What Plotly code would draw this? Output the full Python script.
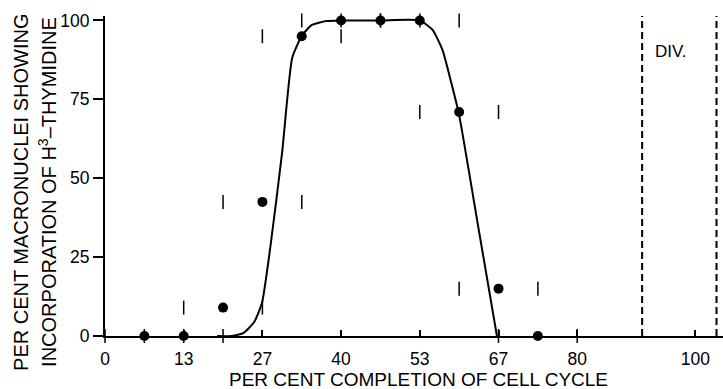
import plotly.graph_objects as go

# Measured data (per cent of cells with labelled macronuclei)
cycle_pct = [6.67, 13.33, 20.0, 26.67, 33.33, 40.0, 46.67, 53.33, 60.0, 66.67, 73.33]
labelled_pct = [0, 0, 9, 42.5, 95, 100, 100, 100, 71, 15, 0]
half_range = [6.67, 6.67, 6.67, 6.67, 6.67, 6.67, 6.67, 6.67, 6.67, 6.67, 6.67]

# Hand-fitted curve through the points (baseline elsewhere is the x axis)
curve_x = [19.0, 21.5, 23.5, 25.3, 26.6, 28.0, 30.0, 31.7, 33.3, 35.0, 37.5, 40.0, 46.7,
           53.3, 55.5, 57.2, 58.7, 60.0, 63.2, 66.4]
curve_y = [0, 0, 1, 4.5, 10.5, 28, 58, 88, 95, 98.5, 99.8, 100, 100,
           100, 97, 90.5, 80, 70, 35, 0]

# Division interval
div_x = [91.0, 103.6]

xtick_vals = [0, 13.33, 26.67, 40, 53.33, 66.67, 80, 100]
xtick_text = ["0", "13", "27", "40", "53", "67", "80", "100"]
ytick_vals = [0, 25, 50, 75, 100]
ytick_text = ["0", "25", "50", "75", "100"]

FONT = "Liberation Sans, Arial, sans-serif"

fig = go.Figure()

fig.add_trace(go.Scatter(
    x=curve_x, y=curve_y, mode="lines",
    line=dict(color="black", width=2, shape="spline", smoothing=0.5),
    hoverinfo="skip", cliponaxis=False))

# range end marks
mark_x = [x - h for x, h in zip(cycle_pct, half_range)] + [x + h for x, h in zip(cycle_pct, half_range)]
mark_y = labelled_pct + labelled_pct
fig.add_trace(go.Scatter(
    x=mark_x, y=mark_y, mode="markers",
    marker=dict(symbol="line-ns", size=10, line=dict(color="black", width=1.5)),
    cliponaxis=False, hoverinfo="skip"))

fig.add_trace(go.Scatter(
    x=cycle_pct, y=labelled_pct, mode="markers",
    marker=dict(symbol="circle", size=10, color="black"),
    cliponaxis=False))

for dx in div_x:
    fig.add_shape(type="line", x0=dx, x1=dx, y0=0, y1=101.4,
                  xref="x", yref="y",
                  line=dict(color="black", width=2, dash="7px,4px"))

fig.add_annotation(x=95.9, y=90, xref="x", yref="y", text="DIV.",
                   showarrow=False, font=dict(size=17, color="black", family=FONT))

fig.add_annotation(x=0.508, y=-0.137, xref="paper", yref="paper",
                   text="PER CENT COMPLETION OF CELL CYCLE", showarrow=False,
                   xanchor="center", yanchor="middle",
                   font=dict(size=19, color="black", family=FONT))

fig.add_annotation(x=-0.136, y=0.45, xref="paper", yref="paper",
                   text="PER CENT MACRONUCLEI SHOWING", showarrow=False,
                   textangle=-90, xanchor="center", yanchor="middle",
                   font=dict(size=20, color="black", family=FONT))
fig.add_annotation(x=-0.094, y=0.45, xref="paper", yref="paper",
                   text="INCORPORATION OF H<sup>3</sup>–THYMIDINE", showarrow=False,
                   textangle=-90, xanchor="center", yanchor="middle",
                   font=dict(size=20, color="black", family=FONT))

fig.update_layout(
    width=723, height=389, autosize=False,
    margin=dict(l=105, r=0, t=16, b=53),
    paper_bgcolor="white", plot_bgcolor="white",
    showlegend=False,
    font=dict(family=FONT, color="black", size=17),
    xaxis=dict(range=[0, 104.7], tickmode="array", tickvals=xtick_vals, ticktext=xtick_text,
               showgrid=False, zeroline=False, showline=True, linecolor="black", linewidth=2,
               ticks="inside", ticklen=6, tickwidth=1.5, tickcolor="black",
               ticklabelstandoff=6, tickfont=dict(size=17.5), automargin=False),
    yaxis=dict(range=[0, 101.4], tickmode="array", tickvals=ytick_vals, ticktext=ytick_text,
               showgrid=False, zeroline=False, showline=True, linecolor="black", linewidth=2,
               ticks="outside", ticklen=10, tickwidth=1.5, tickcolor="black",
               tickfont=dict(size=17.5), automargin=False),
)

# remove the default page margin so the figure fills the window exactly
fig.write_html("out.html",
               config={"displayModeBar": False},
               post_script="document.body.style.margin='0';document.body.style.overflow='hidden';")
